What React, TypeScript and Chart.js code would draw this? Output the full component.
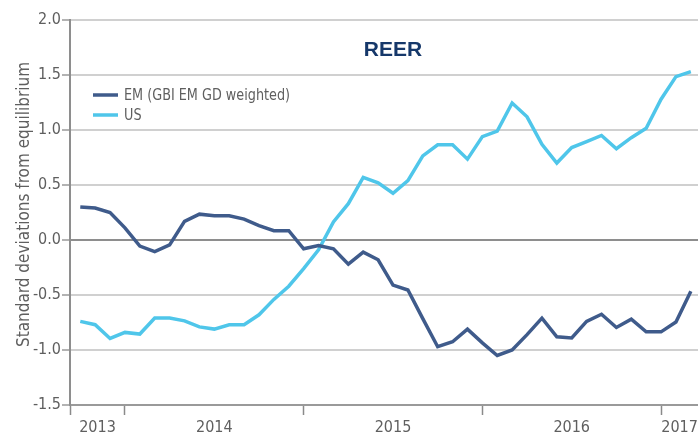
import React, { useEffect, useRef } from 'react';
import { Chart, registerables } from 'chart.js';

Chart.register(...registerables);

// Monthly observations, Oct 2013 – Mar 2017
const months = [
  'Oct 2013', 'Nov 2013', 'Dec 2013',
  'Jan 2014', 'Feb 2014', 'Mar 2014', 'Apr 2014', 'May 2014', 'Jun 2014', 'Jul 2014', 'Aug 2014', 'Sep 2014', 'Oct 2014', 'Nov 2014', 'Dec 2014',
  'Jan 2015', 'Feb 2015', 'Mar 2015', 'Apr 2015', 'May 2015', 'Jun 2015', 'Jul 2015', 'Aug 2015', 'Sep 2015', 'Oct 2015', 'Nov 2015', 'Dec 2015',
  'Jan 2016', 'Feb 2016', 'Mar 2016', 'Apr 2016', 'May 2016', 'Jun 2016', 'Jul 2016', 'Aug 2016', 'Sep 2016', 'Oct 2016', 'Nov 2016', 'Dec 2016',
  'Jan 2017', 'Feb 2017', 'Mar 2017',
];

const emValues = [
  0.30, 0.29, 0.25,
  0.11, -0.055, -0.105, -0.045, 0.17, 0.235, 0.22, 0.22, 0.19, 0.13, 0.085, 0.085,
  -0.08, -0.05, -0.08, -0.22, -0.11, -0.18, -0.41, -0.455, -0.715, -0.97, -0.925, -0.81,
  -0.935, -1.05, -1.0, -0.86, -0.71, -0.88, -0.89, -0.74, -0.675, -0.795, -0.72, -0.835,
  -0.835, -0.745, -0.465,
];

const usValues = [
  -0.74, -0.77, -0.895,
  -0.84, -0.855, -0.71, -0.71, -0.735, -0.79, -0.81, -0.77, -0.77, -0.68, -0.54, -0.42,
  -0.26, -0.09, 0.165, 0.33, 0.57, 0.52, 0.425, 0.54, 0.765, 0.865, 0.865, 0.735,
  0.94, 0.99, 1.245, 1.12, 0.87, 0.70, 0.84, 0.895, 0.95, 0.83, 0.93, 1.015,
  1.28, 1.485, 1.53,
];

const seriesNames = ['EM (GBI EM GD weighted)', 'US'];
const yearLabels = ['2013', '2014', '2015', '2016', '2017'];
const yearStartIdx = [3, 15, 27, 39]; // index of each January
const yTickValues = [2.0, 1.5, 1.0, 0.5, 0.0, -0.5, -1.0, -1.5];
const chartTitle = 'REER';
const yAxisTitle = 'Standard deviations from equilibrium';

const X_MIN = -0.69;
const X_MAX = 41.48;

const EM_COLOR = '#3f5b8b';
const US_COLOR = '#4fc6ea';
const TEXT_COLOR = '#5f5f5f';
const FONT = "'Liberation Sans Narrow', 'DejaVu Sans Condensed', 'Roboto', sans-serif";

export default function App() {
  const canvasRef = useRef<HTMLCanvasElement | null>(null);

  useEffect(() => {
    document.body.style.margin = '0';
    const canvas = canvasRef.current;
    if (!canvas) return;

    // year label positions: centres of each year span on the axis
    const bounds = [X_MIN, ...yearStartIdx, X_MAX];
    const labelPos = yearLabels.map((_, k) => (bounds[k] + bounds[k + 1]) / 2);
    const tickDefs: { value: number; label: string; mark: boolean }[] = [];
    tickDefs.push({ value: X_MIN, label: '', mark: true });
    yearLabels.forEach((lab, k) => {
      tickDefs.push({ value: labelPos[k], label: lab, mark: false });
      if (k < yearStartIdx.length) tickDefs.push({ value: yearStartIdx[k], label: '', mark: true });
    });

    const overlay = {
      id: 'overlay',
      afterDraw(chart: any) {
        const { ctx, chartArea } = chart;
        ctx.save();
        // title
        ctx.fillStyle = '#16386a';
        ctx.font = `bold 21px 'Liberation Sans', Arial, sans-serif`;
        ctx.textAlign = 'center';
        ctx.textBaseline = 'middle';
        ctx.fillText(chartTitle, 393, 50);
        // legend
        const colors = [EM_COLOR, US_COLOR];
        seriesNames.forEach((name, k) => {
          const y = 95 + k * 20;
          ctx.strokeStyle = colors[k];
          ctx.lineWidth = 3.5;
          ctx.beginPath();
          ctx.moveTo(93, y);
          ctx.lineTo(118, y);
          ctx.stroke();
          ctx.save();
          ctx.translate(124, y + 1);
          ctx.scale(0.89, 1);
          ctx.fillStyle = TEXT_COLOR;
          ctx.font = `16px ${FONT}`;
          ctx.textAlign = 'left';
          ctx.textBaseline = 'middle';
          ctx.fillText(name, 0, 0);
          ctx.restore();
        });
        // y axis title
        ctx.translate(25, (chartArea.top + chartArea.bottom) / 2 - 8);
        ctx.rotate(-Math.PI / 2);
        ctx.fillStyle = TEXT_COLOR;
        ctx.font = `17px ${FONT}`;
        ctx.textAlign = 'center';
        ctx.textBaseline = 'middle';
        ctx.fillText(yAxisTitle, 0, 0);
        ctx.restore();
      },
    };

    const chart = new Chart(canvas, {
      type: 'line',
      data: {
        datasets: [
          {
            label: seriesNames[0],
            data: emValues.map((v, i) => ({ x: i, y: v })),
            borderColor: EM_COLOR,
            backgroundColor: EM_COLOR,
            borderWidth: 3.5,
            pointRadius: 0,
            tension: 0,
          },
          {
            label: seriesNames[1],
            data: usValues.map((v, i) => ({ x: i, y: v })),
            borderColor: US_COLOR,
            backgroundColor: US_COLOR,
            borderWidth: 3.5,
            pointRadius: 0,
            tension: 0,
          },
        ],
      },
      options: {
        animation: false,
        responsive: false,
        devicePixelRatio: 1,
        layout: { padding: { top: 20, right: 0, left: 0, bottom: 0 } },
        plugins: {
          legend: { display: false },
          title: { display: false },
          tooltip: {
            callbacks: {
              title: (items: any[]) => (items.length ? months[items[0].parsed.x] : ''),
            },
          },
        },
        scales: {
          x: {
            type: 'linear',
            min: X_MIN,
            max: X_MAX,
            afterBuildTicks: (scale: any) => {
              scale.ticks = tickDefs.map((t) => ({ value: t.value }));
            },
            afterFit: (scale: any) => {
              scale.height = 29;
              scale.paddingLeft = 0;
              scale.paddingRight = 0;
            },
            ticks: {
              autoSkip: false,
              maxRotation: 0,
              padding: 3,
              color: TEXT_COLOR,
              font: { family: FONT, size: 16 },
              callback: (_v: any, index: number) => tickDefs[index]?.label ?? '',
            },
            grid: {
              drawOnChartArea: false,
              drawTicks: true,
              tickLength: 10,
              tickWidth: 1.5,
              tickColor: (ctx: any) => (tickDefs[ctx.index]?.mark ? '#8a8a8a' : 'rgba(0,0,0,0)'),
            },
            border: { display: true, color: '#9a9a9a', width: 2 },
          },
          y: {
            min: -1.5,
            max: 2.0,
            afterBuildTicks: (scale: any) => {
              scale.ticks = yTickValues.slice().reverse().map((v) => ({ value: v }));
            },
            afterFit: (scale: any) => {
              scale.width = 70;
            },
            ticks: {
              padding: 1,
              color: TEXT_COLOR,
              font: { family: FONT, size: 16 },
              callback: (v: any) => Number(v).toFixed(1),
            },
            grid: {
              color: (ctx: any) => (ctx.tick && ctx.tick.value === 0 ? '#8e8e8e' : '#d0d0d0'),
              lineWidth: 2,
              tickLength: 8,
              tickColor: '#9a9a9a',
              tickWidth: 1.5,
            },
            border: { display: true, color: '#8e8e8e', width: 2 },
          },
        },
      },
      plugins: [overlay],
    } as any);

    return () => {
      chart.destroy();
    };
  }, []);

  return (
    <div style={{ width: 698, height: 434, position: 'relative' }}>
      <canvas ref={canvasRef} width={698} height={434} />
    </div>
  );
}
